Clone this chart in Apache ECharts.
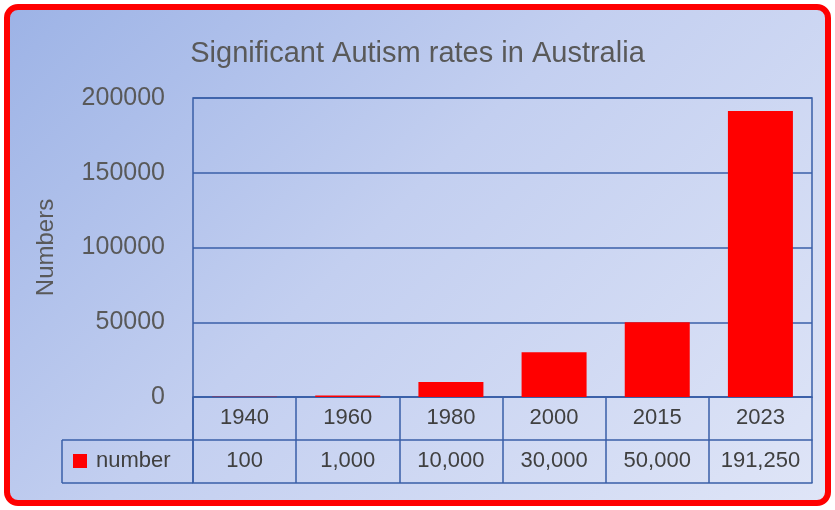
<!DOCTYPE html>
<html><head><meta charset="utf-8">
<script src="https://cdn.jsdelivr.net/npm/echarts@6/dist/echarts.min.js"></script>
<style>
html,body{margin:0;padding:0;background:#fff;}
#wrap{position:absolute;left:4px;top:4px;width:815px;height:490px;border:6px solid #ff0000;border-radius:14px;
background:linear-gradient(135deg,#9db3e6 0%,#c3cff0 45%,#dfe5f7 100%);overflow:hidden;}
#c{position:absolute;left:-10px;top:-10px;width:835px;height:510px;}
</style></head><body>
<div id="wrap"><div id="c"></div></div>
<script>
const categories=['1940','1960','1980','2000','2015','2023'];
const values=[100,1000,10000,30000,50000,191250];
const valueLabels=['100','1,000','10,000','30,000','50,000','191,250'];
const yTicks=[0,50000,100000,150000,200000];
const seriesName='number';
const font='"Liberation Sans", "Noto Sans", sans-serif';
const lineC='#3a5fa8';
const chart=echarts.init(document.getElementById('c'),null,{renderer:'canvas'});
const tableAxis=(off,labels,showLabel)=>({
  type:'category',data:labels||categories,position:'bottom',offset:off,gridIndex:0,
  axisLine:{show:true,lineStyle:{color:lineC,width:1.5}},
  axisTick:{show:showLabel,length:43,inside:false,lineStyle:{color:lineC,width:1.5}},
  axisLabel:{show:showLabel,color:'#404040',fontSize:22,fontFamily:font,margin:10,interval:0}
});
chart.setOption({
  backgroundColor:'transparent',
  animation:false,
  title:{text:'Significant Autism rates in Australia',left:'center',top:34,
    textStyle:{color:'#595959',fontSize:29,fontWeight:'normal',fontFamily:font}},
  grid:{left:193,right:23,top:98,bottom:113,show:true,borderColor:lineC,borderWidth:1.5},
  xAxis:[tableAxis(0,categories,true),tableAxis(43,valueLabels,true),tableAxis(86,categories,false)],
  yAxis:{type:'value',min:0,max:200000,interval:50000,
    name:'Numbers',nameLocation:'middle',nameGap:135,nameRotate:90,
    nameTextStyle:{color:'#595959',fontSize:24,fontFamily:font},
    axisLine:{show:false},axisTick:{show:false},
    axisLabel:{color:'#595959',fontSize:25,fontFamily:font,margin:28,formatter:v=>String(v)},
    splitLine:{lineStyle:{color:lineC,width:1.5}}},
  series:[{name:seriesName,type:'bar',data:values,barWidth:'63%',itemStyle:{color:'#ff0000'}}],
  graphic:[
    {type:'line',shape:{x1:62,y1:440,x2:193,y2:440},style:{stroke:lineC,lineWidth:1.5}},
    {type:'line',shape:{x1:62,y1:483,x2:193,y2:483},style:{stroke:lineC,lineWidth:1.5}},
    {type:'line',shape:{x1:62,y1:440,x2:62,y2:483},style:{stroke:lineC,lineWidth:1.5}},
    {type:'line',shape:{x1:193,y1:397,x2:193,y2:483},style:{stroke:lineC,lineWidth:1.5}},
    {type:'rect',shape:{x:73,y:454,width:14,height:14},style:{fill:'#ff0000'}},
    {type:'text',x:96,y:461,style:{text:seriesName,fill:'#404040',fontSize:22,fontFamily:font,verticalAlign:'middle'}}
  ]
});
</script></body></html>
